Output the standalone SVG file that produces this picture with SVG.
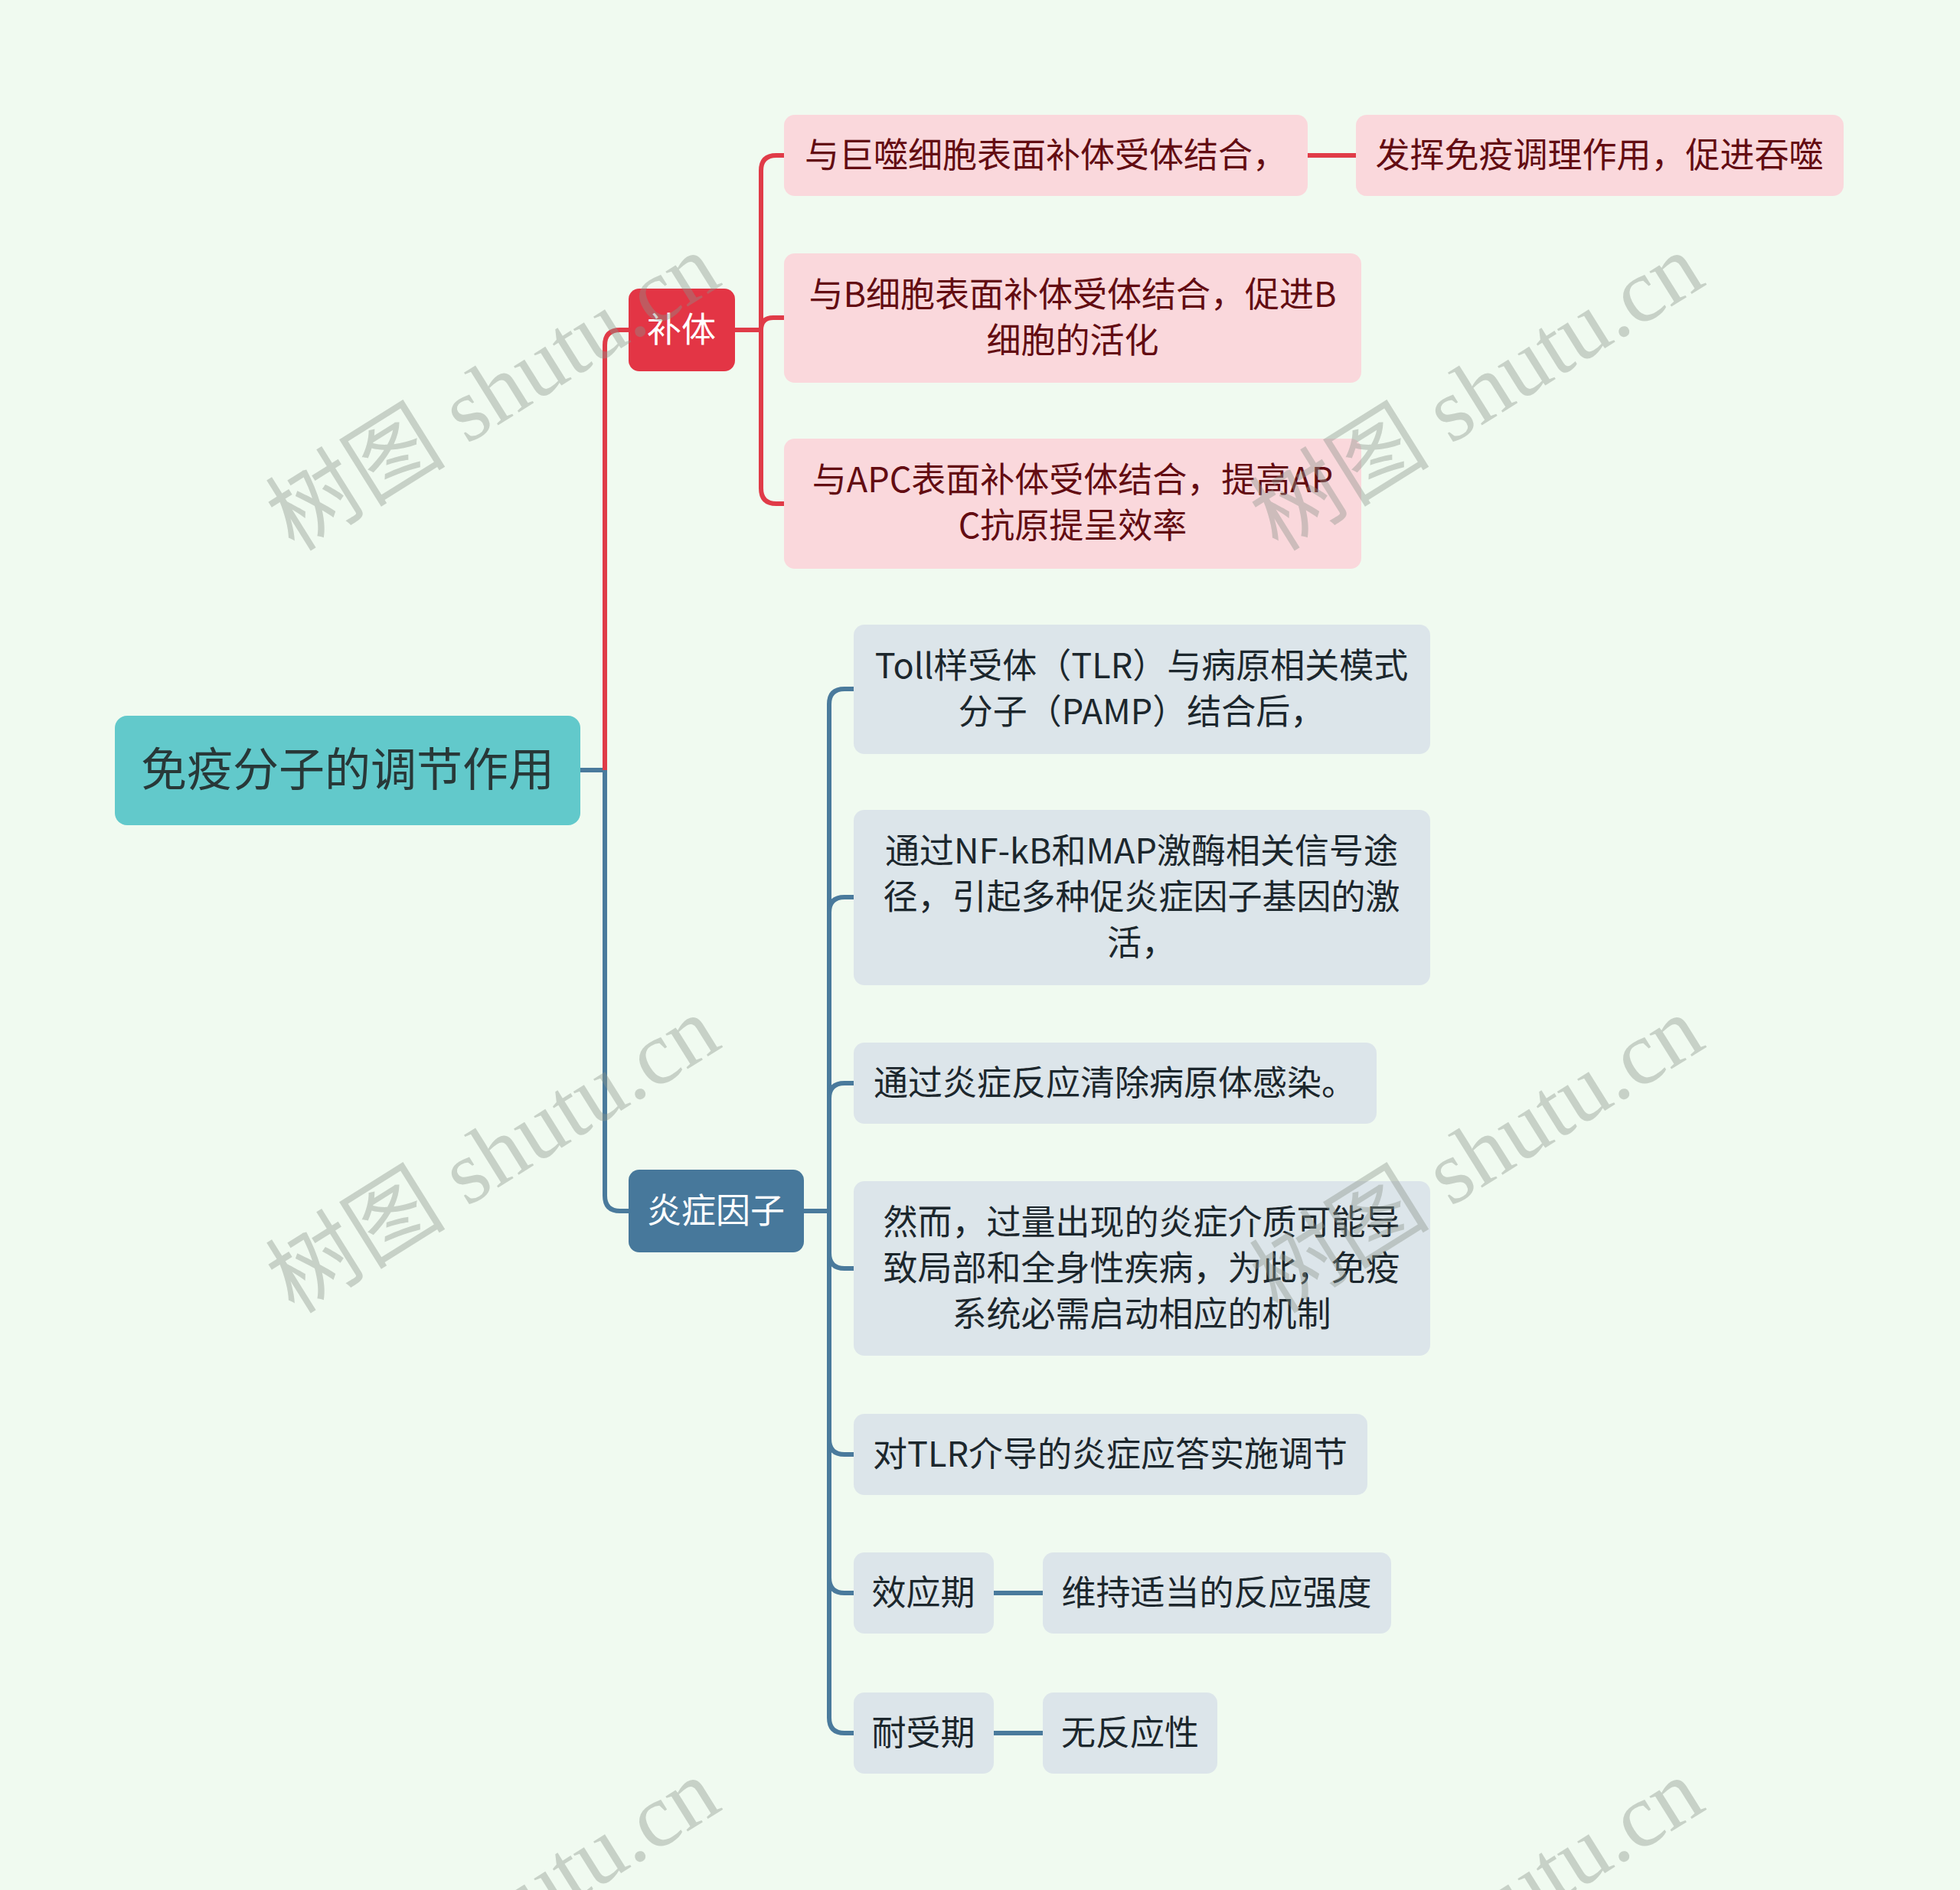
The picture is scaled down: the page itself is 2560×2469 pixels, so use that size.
<svg xmlns="http://www.w3.org/2000/svg" width="2560" height="2469" viewBox="0 0 2560 2469">
<style>
.t{font-family:"Noto Sans CJK SC","Noto Sans",sans-serif;text-anchor:middle}
.leafR{fill:#fad8dc}
.leafB{fill:#dce5ea}
.tr{fill:#630c12;font-size:45px}
.tb{fill:#1c272d;font-size:45px}
.lr{fill:none;stroke:#e03b48;stroke-width:6}
.lb{fill:none;stroke:#4a7a9c;stroke-width:6}
.wm{font-family:"Liberation Serif","Noto Sans CJK SC",serif;font-size:118px;fill:#8a948a;fill-opacity:0.4;text-anchor:middle}
</style>
<rect width="2560" height="2469" fill="#f0faf0"/>
<g id="connectors">
<path class="lb" d="M758,1006 H790"/>
<path class="lr" d="M790,1006 V451 Q790,431 810,431 H821"/>
<path class="lb" d="M790,1006 V1562 Q790,1582 810,1582 H821"/>
<path class="lr" d="M960,431 H994"/>
<path class="lr" d="M994,431 V223 Q994,203 1014,203 H1024"/>
<path class="lr" d="M994,431 Q994,415 1010,415 H1024"/>
<path class="lr" d="M994,431 V638 Q994,658 1014,658 H1024"/>
<path class="lr" d="M1708,203 H1771"/>
<path class="lb" d="M1050,1582 H1083"/>
<path class="lb" d="M1083,1582 V920 Q1083,900 1103,900 H1115"/>
<path class="lb" d="M1083,1582 V1192 Q1083,1172 1103,1172 H1115"/>
<path class="lb" d="M1083,1582 V1435 Q1083,1415 1103,1415 H1115"/>
<path class="lb" d="M1083,1582 V1637 Q1083,1657 1103,1657 H1115"/>
<path class="lb" d="M1083,1582 V1880 Q1083,1900 1103,1900 H1115"/>
<path class="lb" d="M1083,1582 V2061 Q1083,2081 1103,2081 H1115"/>
<path class="lb" d="M1083,1582 V2244 Q1083,2264 1103,2264 H1115"/>
<path class="lb" d="M1298,2081 H1362"/>
<path class="lb" d="M1298,2264 H1362"/>
</g>
<g id="root">
<rect x="150" y="935" width="608" height="143" rx="16" fill="#62c9cb"/>
<text class="t" x="454" y="1027" font-size="60" fill="#283838">免疫分子的调节作用</text>
</g>
<g id="n-buti">
<rect x="821" y="377" width="139" height="108" rx="14" fill="#e33545"/>
<text class="t" x="890" y="447" font-size="45" fill="#ffffff">补体</text>
</g>
<g id="n-yanzheng">
<rect x="821" y="1528" width="229" height="108" rx="14" fill="#47789b"/>
<text class="t" x="935" y="1598" font-size="45" fill="#ffffff">炎症因子</text>
</g>
<g id="r1">
<rect class="leafR" x="1024" y="150" width="684" height="106" rx="14"/>
<text class="t tr" x="1366" y="219">与巨噬细胞表面补体受体结合，</text>
</g>
<g id="r1a">
<rect class="leafR" x="1771" y="150" width="637" height="106" rx="14"/>
<text class="t tr" x="2089" y="219">发挥免疫调理作用，促进吞噬</text>
</g>
<g id="r2">
<rect class="leafR" x="1024" y="331" width="754" height="169" rx="14"/>
<text class="t tr" x="1401" y="401">与B细胞表面补体受体结合，促进B</text>
<text class="t tr" x="1401" y="461">细胞的活化</text>
</g>
<g id="r3">
<rect class="leafR" x="1024" y="573" width="754" height="170" rx="14"/>
<text class="t tr" x="1401" y="643">与APC表面补体受体结合，提高AP</text>
<text class="t tr" x="1401" y="703">C抗原提呈效率</text>
</g>
<g id="b1">
<rect class="leafB" x="1115" y="816" width="753" height="169" rx="14"/>
<text class="t tb" x="1491" y="886">Toll样受体（TLR）与病原相关模式</text>
<text class="t tb" x="1491" y="946">分子（PAMP）结合后，</text>
</g>
<g id="b2">
<rect class="leafB" x="1115" y="1058" width="753" height="229" rx="14"/>
<text class="t tb" x="1491" y="1128">通过NF-kB和MAP激酶相关信号途</text>
<text class="t tb" x="1491" y="1188">径，引起多种促炎症因子基因的激</text>
<text class="t tb" x="1491" y="1248">活，</text>
</g>
<g id="b3">
<rect class="leafB" x="1115" y="1362" width="683" height="106" rx="14"/>
<text class="t tb" x="1456" y="1431">通过炎症反应清除病原体感染。</text>
</g>
<g id="b4">
<rect class="leafB" x="1115" y="1543" width="753" height="228" rx="14"/>
<text class="t tb" x="1491" y="1613">然而，过量出现的炎症介质可能导</text>
<text class="t tb" x="1491" y="1673">致局部和全身性疾病，为此，免疫</text>
<text class="t tb" x="1491" y="1733">系统必需启动相应的机制</text>
</g>
<g id="b5">
<rect class="leafB" x="1115" y="1847" width="671" height="106" rx="14"/>
<text class="t tb" x="1450" y="1916">对TLR介导的炎症应答实施调节</text>
</g>
<g id="b6">
<rect class="leafB" x="1115" y="2028" width="183" height="106" rx="14"/>
<text class="t tb" x="1206" y="2097">效应期</text>
</g>
<g id="b6a">
<rect class="leafB" x="1362" y="2028" width="455" height="106" rx="14"/>
<text class="t tb" x="1589" y="2097">维持适当的反应强度</text>
</g>
<g id="b7">
<rect class="leafB" x="1115" y="2211" width="183" height="106" rx="14"/>
<text class="t tb" x="1206" y="2280">耐受期</text>
</g>
<g id="b7a">
<rect class="leafB" x="1362" y="2211" width="228" height="106" rx="14"/>
<text class="t tb" x="1476" y="2280">无反应性</text>
</g>
<g id="watermarks">
<text class="wm" transform="translate(645,514) rotate(-32)" y="38">树图 shutu.cn</text>
<text class="wm" transform="translate(1930,514) rotate(-32)" y="38">树图 shutu.cn</text>
<text class="wm" transform="translate(645,1510) rotate(-32)" y="38">树图 shutu.cn</text>
<text class="wm" transform="translate(1930,1510) rotate(-32)" y="38">树图 shutu.cn</text>
<text class="wm" transform="translate(645,2506) rotate(-32)" y="38">树图 shutu.cn</text>
<text class="wm" transform="translate(1930,2506) rotate(-32)" y="38">树图 shutu.cn</text>
</g>
</svg>
